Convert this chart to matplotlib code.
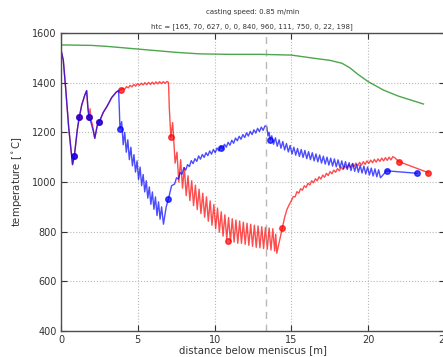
import numpy as np
import matplotlib.pyplot as plt

# shell temperatures along the strand
green_x = [0, 2, 3, 4.5, 6, 7.5, 9, 11, 13, 15, 16.5, 17.5, 18.3, 18.8, 19.3, 20, 21, 22, 23.6]
green_y = [1552, 1550, 1546, 1538, 1530, 1522, 1516, 1514, 1514, 1511, 1498, 1490, 1478,
           1460, 1435, 1404, 1370, 1345, 1314]

blue_x = [0, 0.15, 0.3, 0.5, 0.75, 0.87, 1.06, 1.19, 1.35, 1.55, 1.67, 1.75, 1.82, 1.95,
          2.1, 2.2, 2.35, 2.5, 2.75, 3.0, 3.3, 3.6, 3.75, 3.8, 3.84,
          3.95, 4.05, 4.15, 4.25, 4.35, 4.45, 4.55, 4.65, 4.75, 4.85, 4.95, 5.05, 5.15, 5.25,
          5.35, 5.45, 5.55, 5.65, 5.75, 5.85, 5.95, 6.05, 6.15, 6.25, 6.35, 6.45, 6.55, 6.67,
          6.85, 6.99, 7.2,
          7.40, 7.52, 7.64, 7.76, 7.88, 8.00, 8.12, 8.24, 8.36, 8.48, 8.60, 8.72, 8.84, 8.96,
          9.08, 9.20, 9.32, 9.44, 9.56, 9.68, 9.80, 9.92, 10.04, 10.16, 10.28, 10.40, 10.52,
          10.64, 10.76, 10.88, 11.00, 11.12, 11.24, 11.36, 11.48, 11.60, 11.72, 11.84, 11.96,
          12.08, 12.20, 12.32, 12.44, 12.56, 12.68, 12.80, 12.92, 13.04, 13.16, 13.28, 13.40,
          13.48, 13.55, 13.62,
          13.72, 13.84, 13.96, 14.08, 14.20, 14.32, 14.44, 14.56, 14.68, 14.80, 14.92, 15.04,
          15.16, 15.28, 15.40, 15.52, 15.64, 15.76, 15.88, 16.00, 16.12, 16.24, 16.36, 16.48,
          16.60, 16.72, 16.84, 16.96, 17.08, 17.20, 17.32, 17.44, 17.56, 17.68, 17.80, 17.92,
          18.04, 18.16, 18.28, 18.40, 18.52, 18.64, 18.76, 18.88, 19.00, 19.12, 19.24, 19.36,
          19.48, 19.60, 19.72, 19.84, 19.96, 20.08, 20.20, 20.32, 20.44, 20.56, 20.68, 20.80,
          21.2, 23.2]
blue_y = [1532, 1490, 1380, 1220, 1070, 1105, 1210, 1261, 1310, 1350, 1368, 1300, 1261, 1240,
          1205, 1176, 1225, 1243, 1280, 1305, 1340, 1362, 1368, 1290, 1214,
          1243, 1150, 1200, 1120, 1170, 1090, 1140, 1065, 1110, 1040, 1085, 1010, 1060, 985,
          1030, 960, 1005, 935, 980, 910, 960, 890, 940, 865, 920, 850, 900, 830,
          900, 931, 985,
          992, 1017, 1012, 1038, 1032, 1058, 1048, 1070, 1062, 1086, 1074, 1094, 1083, 1105,
          1092, 1111, 1099, 1118, 1106, 1125, 1112, 1131, 1118, 1137, 1125, 1144, 1133,
          1152, 1140, 1160, 1148, 1168, 1156, 1177, 1166, 1184, 1172, 1191, 1179,
          1198, 1185, 1204, 1191, 1210, 1197, 1216, 1203, 1221, 1208, 1226, 1222,
          1185, 1200, 1170,
          1186, 1152, 1178, 1144, 1170, 1136, 1163, 1129, 1155, 1121, 1147, 1113,
          1140, 1108, 1135, 1103, 1131, 1099, 1127, 1094, 1122, 1090, 1118, 1085,
          1113, 1081, 1109, 1076, 1104, 1072, 1100, 1068, 1096, 1064, 1093, 1061,
          1089, 1057, 1085, 1054, 1082, 1050, 1078, 1046, 1075, 1043, 1071, 1039,
          1067, 1036, 1064, 1032, 1060, 1028, 1056, 1024, 1053, 1021, 1049, 1017,
          1045, 1035]
blue_mx = [0.87, 1.19, 1.82, 2.5, 3.84, 6.99, 10.4, 13.62, 21.2, 23.2]
blue_my = [1105, 1261, 1261, 1243, 1214, 931, 1136, 1170, 1045, 1035]

red_x = [0, 0.15, 0.3, 0.5, 0.75, 0.87, 1.06, 1.19, 1.35, 1.55, 1.67, 1.75, 1.82, 1.89,
         1.95, 2.05, 2.2, 2.35, 2.5, 2.75, 3.0, 3.3, 3.6, 3.75, 3.9,
         4.02, 4.14, 4.26, 4.38, 4.50, 4.62, 4.74, 4.86, 4.98, 5.10, 5.22, 5.34, 5.46, 5.58,
         5.70, 5.82, 5.94, 6.06, 6.18, 6.30, 6.42, 6.54, 6.66, 6.78, 6.90, 7.00,
         7.05, 7.15, 7.27, 7.43, 7.55, 7.67, 7.79, 7.91, 8.03, 8.15, 8.27, 8.39, 8.51, 8.63,
         8.75, 8.87, 8.99, 9.11, 9.23, 9.35, 9.47, 9.59, 9.71, 9.83, 9.95, 10.07, 10.19,
         10.31, 10.43, 10.55, 10.67, 10.79, 10.91, 11.03, 11.15, 11.27, 11.39, 11.51, 11.63,
         11.75, 11.87, 11.99, 12.11, 12.23, 12.35, 12.47, 12.59, 12.71, 12.83, 12.95, 13.07,
         13.19, 13.31, 13.43, 13.55, 13.67, 13.79, 13.91, 13.98, 14.05,
         14.25, 14.4, 14.55, 14.7, 14.85, 15.0,
         15.12, 15.24, 15.36, 15.48, 15.60, 15.72, 15.84, 15.96, 16.08, 16.20, 16.32, 16.44,
         16.56, 16.68, 16.80, 16.92, 17.04, 17.16, 17.28, 17.40, 17.52, 17.64, 17.76, 17.88,
         18.00, 18.12, 18.24, 18.36, 18.48, 18.60, 18.72, 18.84, 18.96, 19.08, 19.20, 19.32,
         19.44, 19.56, 19.68, 19.80, 19.92, 20.04, 20.16, 20.28, 20.40, 20.52, 20.64, 20.76,
         20.88, 21.00, 21.12, 21.24, 21.36, 21.48, 21.60, 21.72,
         22.0, 23.9]
red_y = [1532, 1490, 1380, 1220, 1070, 1105, 1210, 1261, 1310, 1350, 1368, 1300, 1261, 1295,
         1250, 1230, 1176, 1225, 1243, 1280, 1305, 1340, 1362, 1368, 1371,
         1378, 1373, 1384, 1379, 1389, 1383, 1393, 1386, 1396, 1389, 1398, 1391, 1400, 1392,
         1401, 1393, 1402, 1394, 1403, 1395, 1404, 1396, 1404, 1397, 1405, 1401,
         1300, 1180, 1239, 1076, 1120, 1000, 1090, 975, 1058, 945, 1025, 925, 1005, 905,
         987, 889, 971, 873, 955, 858, 940, 842, 924, 826, 909, 812, 895,
         798, 880, 782, 868, 770, 857, 762, 852, 758, 847, 753, 843,
         753, 838, 749, 834, 745, 830, 741, 826, 737, 823, 735, 820,
         732, 817, 729, 815, 726, 812, 722, 790, 713,
         770, 814, 855, 888, 908, 925,
         941, 940, 961, 955, 973, 967, 985, 978, 995, 988, 1005, 997,
         1013, 1005, 1021, 1012, 1028, 1019, 1035, 1026, 1042, 1033, 1048, 1039,
         1054, 1045, 1060, 1050, 1065, 1056, 1070, 1059, 1073, 1062, 1076, 1065,
         1079, 1068, 1082, 1071, 1085, 1075, 1088, 1078, 1091, 1080, 1093, 1083,
         1096, 1085, 1098, 1087, 1100, 1089, 1102, 1098,
         1082, 1038]
red_mx = [0.87, 1.19, 1.82, 2.5, 3.9, 7.15, 10.86, 14.4, 22.0, 23.9]
red_my = [1105, 1261, 1261, 1243, 1371, 1180, 764, 814, 1082, 1038]

x_end_mould = 13.35
htc = [165, 70, 627, 0, 0, 840, 960, 111, 750, 0, 22, 198]

fig = plt.figure(figsize=(4.43, 3.57), dpi=100)
ax = fig.add_axes([0.1377, 0.0728, 0.8668, 0.8348])

ax.plot(green_x, green_y, color='g', lw=1.0, alpha=0.7)
ax.plot(red_x, red_y, color='r', lw=1.0, alpha=0.7)
ax.plot(red_mx, red_my, 'o', color='r', ms=4, alpha=0.7, mec='r')
ax.plot(blue_x, blue_y, color='b', lw=1.0, alpha=0.7)
ax.plot(blue_mx, blue_my, 'o', color='b', ms=4, alpha=0.7, mec='b')
ax.axvline(x_end_mould, color='0.6', ls='--', lw=1.0, alpha=0.7, dashes=(5, 4))

ax.set_xlim(0, 25)
ax.set_ylim(400, 1600)
ax.set_xticks([0, 5, 10, 15, 20, 25])
ax.set_yticks([400, 600, 800, 1000, 1200, 1400, 1600])
ax.grid(True, ls=':', color='0.72', lw=0.8)
ax.tick_params(direction='in', top=True, right=True, labelsize=7, length=4,
               colors='0.2', pad=3)
for s in ax.spines.values():
    s.set_color('0.3')
    s.set_linewidth(1.0)

ax.set_xlabel('distance below meniscus [m]', fontsize=7.3, color='0.2', labelpad=0)
ax.set_ylabel(r'temperature [$^\circ$C]', fontsize=7.3, color='0.2', labelpad=6)

fig.text(253 / 443, 1 - 12 / 357, 'casting speed: 0.85 m/min', fontsize=5,
         ha='center', va='center', color='0.2')
fig.text(252 / 443, 1 - 27 / 357, 'htc = ' + str(htc), fontsize=5,
         ha='center', va='center', color='0.2')

fig.savefig('out.png', dpi=100)
